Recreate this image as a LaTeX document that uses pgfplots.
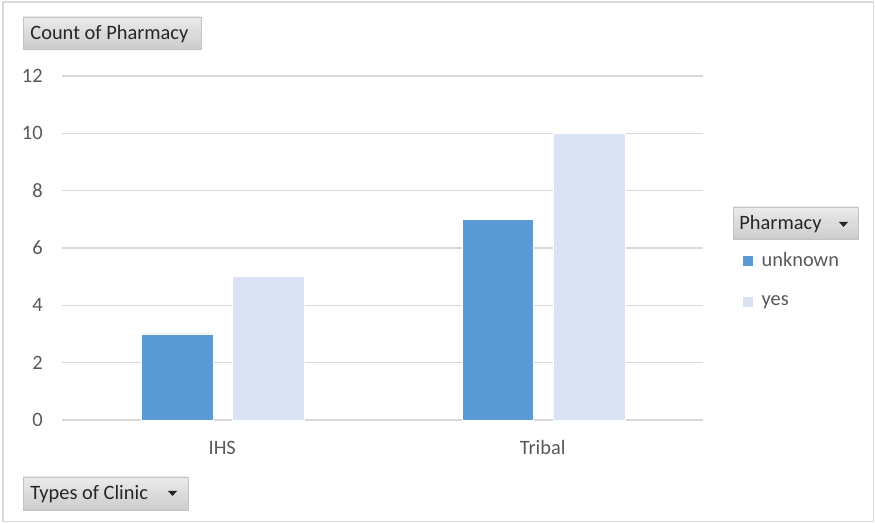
\documentclass[border=0pt]{standalone}
\usepackage{pgfplots}
\pgfplotsset{compat=1.18}
\usepackage{fontspec}
\setmainfont{Carlito}

\definecolor{unk}{HTML}{5B9BD5}
\definecolor{yesc}{HTML}{DAE3F3}
\definecolor{gridc}{HTML}{D9D9D9}
\definecolor{lbl}{HTML}{595959}
\definecolor{btntxt}{HTML}{262626}
\definecolor{btntop}{HTML}{EBEBEB}
\definecolor{btnbot}{HTML}{CCCCCC}
\definecolor{btnedge}{HTML}{C4C4C4}

\newcommand\fsz{\fontsize{10.2pt}{12pt}\selectfont}

\begin{document}
\begin{tikzpicture}[x=0.5pt,y=-0.5pt]
% chart area and frame
\fill[white] (0,0) rectangle (875,523);
\draw[gridc, line width=0.8pt] (3,2) rectangle (873.5,521.5);

\begin{axis}[
  at={(31pt,-210pt)}, anchor=south west,
  scale only axis, width=320.5pt, height=172pt,
  xmin=-0.5, xmax=1.5, ymin=0, ymax=12,
  xtick={0,1}, xticklabels={IHS,Tribal},
  ytick={0,2,...,12},
  ymajorgrids, major grid style={gridc, line width=0.75pt},
  axis line style={draw=none}, major tick length=0pt,
  tick style={draw=none},
  /pgf/number format/assume math mode=true,
  tick label style={font=\fsz, text=lbl},
  yticklabel style={anchor=east, inner sep=0pt, xshift=-9.5pt},
  xticklabel style={anchor=base, inner sep=0pt, yshift=-17.5pt},
  clip=false,
  legend image code/.code={\fill[#1] (0pt,-2.6pt) rectangle (5.2pt,2.6pt);},
  legend cell align=left,
  legend style={at={(1.0515,0.5)}, anchor=north west, draw=none, fill=none,
    font=\fsz, text=lbl, row sep=13pt, column sep=0pt,
    nodes={inner sep=0pt, text=lbl},
    /tikz/every odd column/.append style={column sep=4pt}},
]
\addplot[ybar, bar width=0.2234, bar shift=-0.1396, fill=unk, draw=white, line width=0.4pt]
  coordinates {(0,3) (1,7)};
\addlegendentry{unknown}
\addplot[ybar, bar width=0.2234, bar shift=0.1448, fill=yesc, draw=white, line width=0.4pt]
  coordinates {(0,5) (1,10)};
\addlegendentry{yes}
\end{axis}

% pivot field buttons
\shade[top color=btntop, bottom color=btnbot, draw=btnedge, line width=0.4pt]
  (23,17) rectangle (201,49);
\node[anchor=west, inner sep=0pt, text=btntxt, font=\fsz] at (30,34) {Count of Pharmacy};

\shade[top color=btntop, bottom color=btnbot, draw=btnedge, line width=0.4pt]
  (23,477) rectangle (188,510);
\node[anchor=west, inner sep=0pt, text=btntxt, font=\fsz] at (30,494) {Types of Clinic};
\fill[btntxt] (168,491) -- (177,491) -- (172.5,496) -- cycle;

\shade[top color=btntop, bottom color=btnbot, draw=btnedge, line width=0.4pt]
  (733,207) rectangle (858,239);
\node[anchor=west, inner sep=0pt, text=btntxt, font=\fsz] at (739,224) {Pharmacy};
\fill[btntxt] (839,222) -- (848,222) -- (843.5,227) -- cycle;
\end{tikzpicture}
\end{document}
